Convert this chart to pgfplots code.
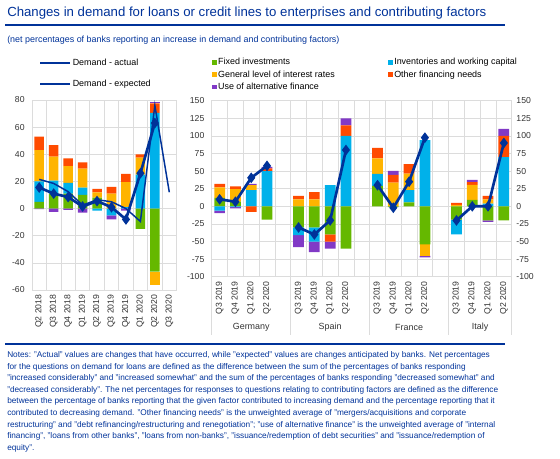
\documentclass[border=0pt]{standalone}
\usepackage{fontspec}
\setmainfont{Liberation Sans}
\usepackage{pgfplots}
\usepackage{pgfplotstable}
\pgfplotsset{compat=1.18}
\definecolor{ecbblue}{HTML}{003299}
\definecolor{cFI}{HTML}{65B800}
\definecolor{cINV}{HTML}{00B1EA}
\definecolor{cINT}{HTML}{FFB400}
\definecolor{cOTH}{HTML}{FF4B00}
\definecolor{cALT}{HTML}{8139C6}
\definecolor{gridc}{HTML}{DCDCDC}

\pgfplotstableread{
x  fi    inv   int   oth  alt
0  5     15    23    10   0
1  11    9.5   17.7  8.6  0
2  11    8     12.3  5.6  0
3  10    5.5   14    4.6  0
4  8     0     4     2.5  0
5  0     0     11    5    0
6  0     1     18.5  6    0
7  0     25    12.5  2.5  0
8  0     70.5  0     7    1.3
}\leftpos
\pgfplotstableread{
x  fi     inv   int   oth  alt
0  0      0     0     0    -0.5
1  0      0     0     0    -2.5
2  0      0     0     0    -1
3  0      0     0     0    -3
4  0      -1.5  0     0    0
5  0      -5    0     0    -3
6  0      0     0     0    -1.5
7  -15    0     0     0    0
8  -46.5  0     -9.5  0    0
}\leftneg
\pgfplotstableread{
x  act   exp
0  15.5  21.5
1  11    18.5
2  8.5   12.5
3  1.5   2.5
4  5.5   6.5
5  1     5
6  -8    0
7  26    -9.5
8  63    76
9  nan   12
}\leftlines
\pgfplotstableread{
x   fi    inv   int   oth   alt
0   12    0     15    5     0
1   6.5   0     18    4     0
2   0     23    7     0     2
3   0     50    0     4     2
5   0     0     10    5     0
6   0     0     10    10    0
7   0     30    0     0     0
8   0     100   0     15    10
10  29    17    22    15    0
11  0     0     33.5  11    6
12  5.5   17.5  23.5  13.5  0
13  0     94    0     0     0
15  0     0     2     3     0
16  9     0     21.5  4     3
17  0     4     6     5     0
18  0     70    0     30    10
}\rightpos
\pgfplotstableread{
x   fi    inv   int    oth   alt
0   0     -6    0      0     -3.5
1   0     -1    0      0     -2
2   0     0     0      -8    0
3   -19   0     0      0     0
5   -30   -11   0      0     -17
6   -30   -20   0      0     -15
7   -40   0     0      -10   -10
8   -60   0     0      0     0
10  0     0     0      0     0
11  -1    0     0      0     0
12  0     0     0      0     0
13  -54   0     -16.5  0     -2
15  -19   -21   0      0     0
16  0     0     0      0     0
17  -20   0     0      0     -2
18  -20   0     0      0     0
}\rightneg
\pgfplotstableread{
x   de
0   10
1   6.5
2   40.5
3   57.5
}\actDE
\pgfplotstableread{
x   es
5   -30
6   -40
7   -20
8   80
}\actES
\pgfplotstableread{
x   fr
10  30
11  -2
12  35
13  97.5
}\actFR
\pgfplotstableread{
x   it
15  -20
16  0
17  0
18  90
}\actIT

\pgfplotsset{
  base/.style={
    scale only axis, enlargelimits=false, clip=false,
    anchor=south west,
    /pgf/number format/assume math mode=true,
    tick label style={font=\fontsize{6.5}{7.5}\selectfont, text=black!80},
    major tick length=0pt, minor tick length=0pt,
    axis line style={gridc},
    grid style={gridc, line width=0.5pt},
    minor grid style={gridc, line width=0.5pt},
    yticklabel style={xshift=-2pt},
  },
  bars/.style={ybar stacked, every axis plot/.append style={draw=none}},
  actual/.style={ecbblue, line width=2pt, mark=diamond*, mark size=2.4pt, mark options={solid, fill=ecbblue, draw=ecbblue}},
  expected/.style={ecbblue, line width=1.1pt, mark=none},
  Lgeom/.style={at={(24pt,126.75pt)}, width=108.4pt, height=142.5pt,
    xmin=-0.5, xmax=9.5, ymin=-60, ymax=80, bar width=0.66},
  Rgeom/.style={at={(158.8pt,136.7pt)}, width=225pt, height=132pt,
    xmin=-0.5, xmax=18.5, ymin=-100, ymax=150, bar width=0.68},
}

\begin{document}
\begin{tikzpicture}
\useasboundingbox (0,0) rectangle (420pt,344.25pt);

% ---------- titles ----------
\node[anchor=west, inner sep=0pt, text=ecbblue, font=\fontsize{9.9}{11}\selectfont] at (5.25pt,334.3pt)
  {Changes in demand for loans or credit lines to enterprises and contributing factors};
\draw[ecbblue, line width=1pt] (3.75pt,325.5pt) -- (378.75pt,325.5pt);
\node[anchor=west, inner sep=0pt, text=ecbblue, font=\fontsize{6.7}{8}\selectfont] at (5.25pt,314.25pt)
  {(net percentages of banks reporting an increase in demand and contributing factors)};

% ---------- left chart ----------
\begin{axis}[base, Lgeom, bars,
  ytick={-60,-40,...,80},
  xtick={0,...,9},
  xticklabels={Q2 2018,Q3 2018,Q4 2018,Q1 2019,Q2 2019,Q3 2019,Q4 2019,Q1 2020,Q2 2020,Q3 2020},
  xticklabel style={rotate=90, anchor=east},
  minor xtick={-0.5,0.5,...,9.5},
  xminorgrids, ymajorgrids]
\addplot[fill=cFI]  table[x=x,y=fi]  {\leftpos};
\addplot[fill=cINV] table[x=x,y=inv] {\leftpos};
\addplot[fill=cINT] table[x=x,y=int] {\leftpos};
\addplot[fill=cOTH] table[x=x,y=oth] {\leftpos};
\addplot[fill=cALT] table[x=x,y=alt] {\leftpos};
\end{axis}
\begin{axis}[base, Lgeom, bars, hide axis]
\addplot[fill=cFI]  table[x=x,y=fi]  {\leftneg};
\addplot[fill=cINV] table[x=x,y=inv] {\leftneg};
\addplot[fill=cINT] table[x=x,y=int] {\leftneg};
\addplot[fill=cOTH] table[x=x,y=oth] {\leftneg};
\addplot[fill=cALT] table[x=x,y=alt] {\leftneg};
\end{axis}
\begin{axis}[base, Lgeom, hide axis,
  legend style={at={(axis description cs:0.045,1.225)}, anchor=north west, draw=none, fill=none,
    inner sep=0pt, font=\fontsize{6.7}{8}\selectfont, row sep=7.5pt, nodes={inner sep=1pt}},
  legend cell align=left,
  legend image code/.code={\draw[#1] (0pt,0pt) -- (22.5pt,0pt);}]
\addplot[actual] table[x=x,y=act] {\leftlines};
\addplot[expected] table[x=x,y=exp] {\leftlines};
\legend{Demand - actual, Demand - expected}
\end{axis}

% ---------- right chart ----------
\begin{axis}[base, Rgeom, bars,
  ytick={-100,-75,...,150},
  xtick={0,1,2,3,5,6,7,8,10,11,12,13,15,16,17,18},
  xticklabels={Q3 2019,Q4 2019,Q1 2020,Q2 2020,Q3 2019,Q4 2019,Q1 2020,Q2 2020,Q3 2019,Q4 2019,Q1 2020,Q2 2020,Q3 2019,Q4 2019,Q1 2020,Q2 2020},
  xticklabel style={rotate=90, anchor=east},
  minor xtick={-0.5,0.5,...,18.5},
  xminorgrids, ymajorgrids,
  legend style={at={(axis description cs:0.0,1.25)}, anchor=north west, draw=none, fill=none,
    inner sep=0pt, font=\fontsize{6.7}{8}\selectfont, row sep=0.8pt, nodes={inner sep=1pt},
    /tikz/every even column/.append style={column sep=39pt}},
  legend columns=2, legend cell align=left,
  legend image code/.code={\fill[#1] (0pt,-1.8pt) rectangle (3.6pt,1.8pt);}]
\addplot[fill=cFI]  table[x=x,y=fi]  {\rightpos};
\addplot[fill=cINV] table[x=x,y=inv] {\rightpos};
\addplot[fill=cINT] table[x=x,y=int] {\rightpos};
\addplot[fill=cOTH] table[x=x,y=oth] {\rightpos};
\addplot[fill=cALT] table[x=x,y=alt] {\rightpos};
\legend{Fixed investments, Inventories and working capital, General level of interest rates, Other financing needs, Use of alternative finance}
\foreach \s in {-0.5,4.5,9.5,14.5,18.5}{
  \edef\tmp{\noexpand\draw[gridc, line width=0.6pt] (axis cs:\s,-100) -- ++(0pt,-44pt);}\tmp
}
\foreach \c/\n in {2/Germany,7/Spain,12/France,16.5/Italy}{
  \edef\tmp{\noexpand\node[font=\noexpand\fontsize{6.7}{8}\noexpand\selectfont, text=black!80] at (axis cs:\c,-100) [yshift=-38pt] {\n};}\tmp
}
\end{axis}
\begin{axis}[base, Rgeom, bars, hide axis]
\addplot[fill=cFI]  table[x=x,y=fi]  {\rightneg};
\addplot[fill=cINV] table[x=x,y=inv] {\rightneg};
\addplot[fill=cINT] table[x=x,y=int] {\rightneg};
\addplot[fill=cOTH] table[x=x,y=oth] {\rightneg};
\addplot[fill=cALT] table[x=x,y=alt] {\rightneg};
\end{axis}
\begin{axis}[base, Rgeom, axis line style={draw=none}, xtick=\empty,
  ytick={-100,-75,...,150}, yticklabel pos=right, yticklabel style={xshift=2pt, anchor=west}]
\addplot[actual] table[x=x,y=de] {\actDE};
\addplot[actual] table[x=x,y=es] {\actES};
\addplot[actual] table[x=x,y=fr] {\actFR};
\addplot[actual] table[x=x,y=it] {\actIT};
\end{axis}

% ---------- notes ----------
\draw[ecbblue, line width=1pt] (3.75pt,86.25pt) -- (378.75pt,86.25pt);
\node[anchor=north west, inner sep=0pt, text=ecbblue, align=left, font=\fontsize{6.2}{8.7}\selectfont] at (5.25pt,80.8pt)
{Notes: "Actual" values are changes that have occurred, while "expected" values are changes anticipated by banks. Net percentages\\
for the questions on demand for loans are defined as the difference between the sum of the percentages of banks responding\\
"increased considerably" and "increased somewhat" and the sum of the percentages of banks responding "decreased somewhat" and\\
"decreased considerably". The net percentages for responses to questions relating to contributing factors are defined as the difference\\
between the percentage of banks reporting that the given factor contributed to increasing demand and the percentage reporting that it\\
contributed to decreasing demand. "Other financing needs" is the unweighted average of "mergers/acquisitions and corporate\\
restructuring" and "debt refinancing/restructuring and renegotiation"; "use of alternative finance" is the unweighted average of "internal\\
financing", "loans from other banks", "loans from non-banks", "issuance/redemption of debt securities" and "issuance/redemption of\\
equity".};
\end{tikzpicture}
\end{document}
